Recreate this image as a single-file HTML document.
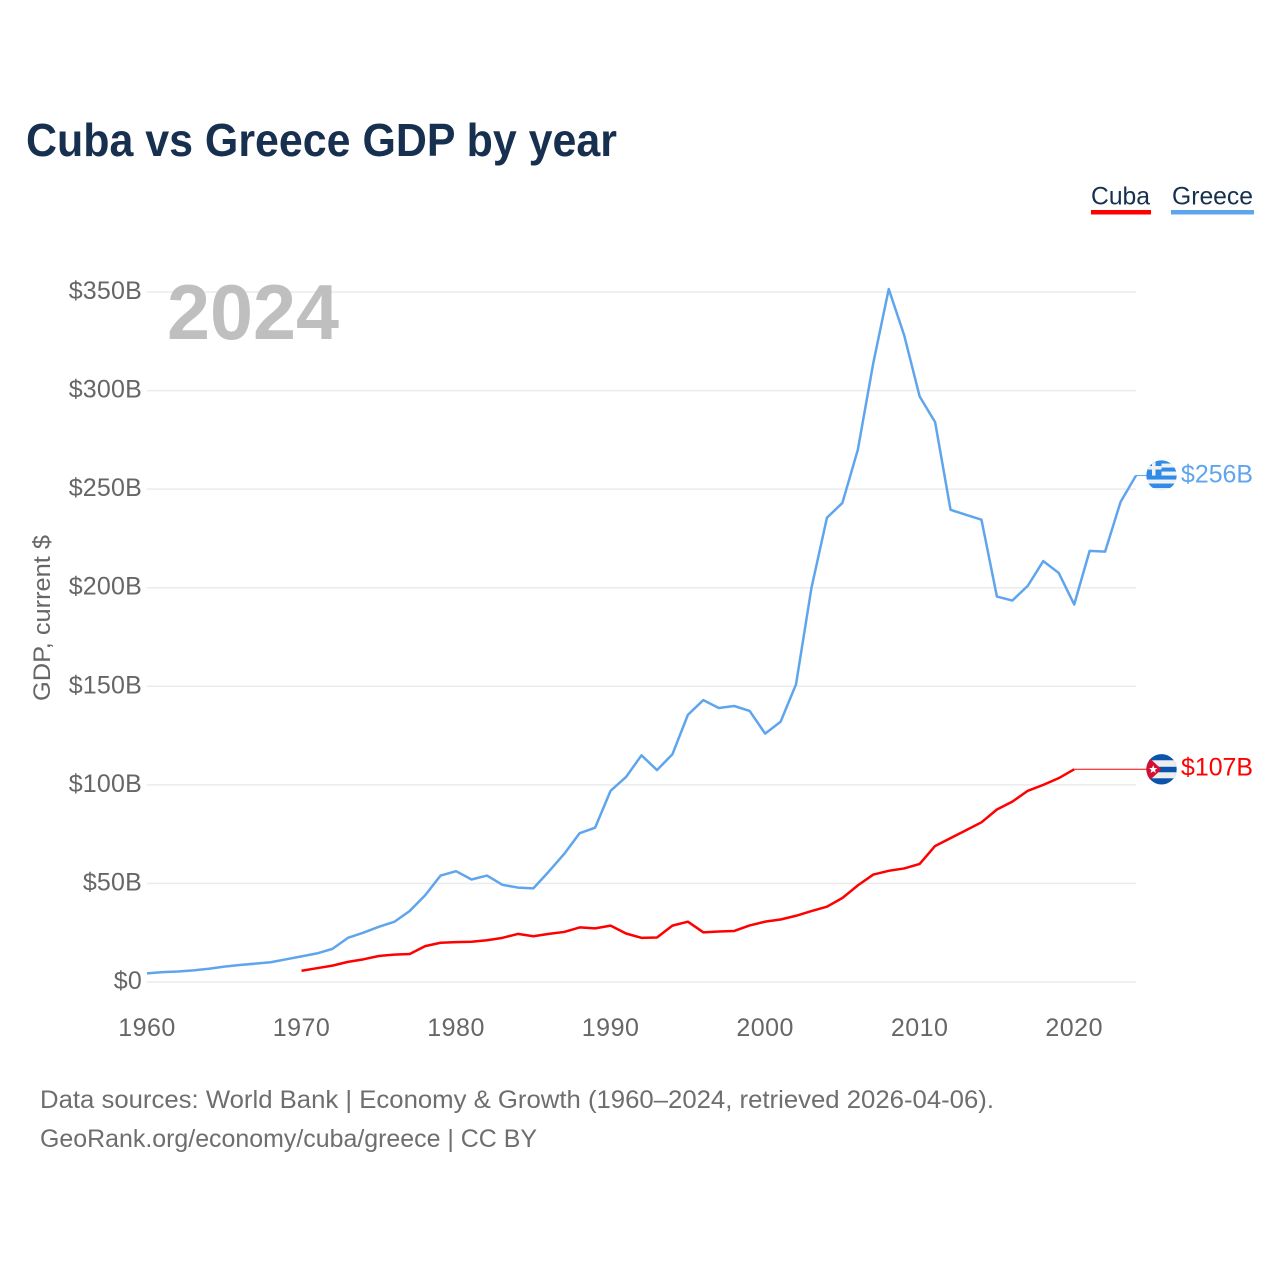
<!DOCTYPE html>
<html lang="en">
<head>
<meta charset="utf-8">
<title>Cuba vs Greece GDP by year</title>
<style>
html,body{margin:0;padding:0;background:#fff;width:1280px;height:1280px;overflow:hidden}
svg{display:block}
text{font-family:"Liberation Sans",sans-serif}
</style>
</head>
<body>
<svg id="chart" xmlns="http://www.w3.org/2000/svg" width="1280" height="1280" viewBox="0 0 1280 1280">
  <defs>
    <clipPath id="flag-clip"><circle cx="0" cy="0" r="15.2"></circle></clipPath>
  </defs>
  <text x="26" y="156" font-size="46" font-weight="700" fill="#17304f" textLength="591" lengthAdjust="spacingAndGlyphs">Cuba vs Greece GDP by year</text>
  <g id="grid"></g>
  <g id="ylabels"></g>
  <g id="xlabels"></g>
  <text x="167" y="339" font-size="78" font-weight="700" fill="#bfbfbf" textLength="172" lengthAdjust="spacingAndGlyphs">2024</text>
  <text transform="translate(50,618) rotate(-90)" text-anchor="middle" font-size="24" fill="#666" textLength="166" lengthAdjust="spacingAndGlyphs">GDP, current $</text>
  <g id="series"></g>

  <g id="flag-greece">
    <g clip-path="url(#flag-clip)">
      <rect x="-16" y="-16" width="32" height="32" fill="#f2f2f2"></rect>
      <rect x="-16" y="-16" width="32" height="4" fill="#2f8ae8"></rect>
      <rect x="-16" y="-8" width="32" height="4" fill="#2f8ae8"></rect>
      <rect x="-16" y="0" width="32" height="4" fill="#2f8ae8"></rect>
      <rect x="-16" y="8" width="32" height="4.5" fill="#2f8ae8"></rect>
      <rect x="-16" y="-16" width="16" height="16" fill="#2f8ae8"></rect>
      <rect x="-16" y="-9.5" width="16" height="3.5" fill="#f2f2f2"></rect>
      <rect x="-9.5" y="-16" width="3.5" height="16" fill="#f2f2f2"></rect>
    </g>
  </g>
  <g id="flag-cuba">
    <g clip-path="url(#flag-clip)">
      <rect x="-16" y="-16" width="32" height="32" fill="#0a55ab"></rect>
      <rect x="-16" y="-9" width="32" height="6.5" fill="#eee"></rect>
      <rect x="-16" y="3" width="32" height="6" fill="#eee"></rect>
      <polygon points="-16,-15 0,0 -16,15" fill="#d21034"></polygon>
      <polygon points="-8.3,-4.2 -7.2,-1.3 -4.2,-1.3 -6.5,0.7 -5.7,3.7 -8.3,2 -10.9,3.7 -10.1,0.7 -12.4,-1.3 -9.4,-1.3" fill="#fff"></polygon>
    </g>
  </g>
  <text id="value-greece" x="1181" font-size="25" fill="#5fa5ed" textLength="72" lengthAdjust="spacingAndGlyphs"></text>
  <text id="value-cuba" x="1181" font-size="25" fill="#ff0000" textLength="72" lengthAdjust="spacingAndGlyphs"></text>

  <text x="1091" y="204.5" font-size="25" fill="#17304f" textLength="59" lengthAdjust="spacingAndGlyphs">Cuba</text>
  <rect x="1091" y="210" width="60" height="4.5" fill="#ff0000"></rect>
  <text x="1172" y="204.5" font-size="25" fill="#17304f" textLength="81" lengthAdjust="spacingAndGlyphs">Greece</text>
  <rect x="1171" y="210" width="83" height="4.5" fill="#5fa5ed"></rect>

  <text x="40" y="1108" font-size="25" fill="#6e6e6e" textLength="954" lengthAdjust="spacingAndGlyphs">Data sources: World Bank | Economy &amp; Growth (1960–2024, retrieved 2026-04-06).</text>
  <text x="40" y="1147" font-size="25" fill="#6e6e6e" textLength="497" lengthAdjust="spacingAndGlyphs">GeoRank.org/economy/cuba/greece | CC BY</text>
</svg>
<script>
const greeceStartYear = 1960;
const greeceValues = [4.4,5.0,5.3,5.9,6.7,7.8,8.6,9.3,10.0,11.5,13.0,14.5,16.8,22.4,25.0,28.0,30.5,36.0,44.0,54.0,56.2,52.0,54.0,49.3,47.9,47.5,56.0,65.0,75.5,78.3,97.0,104.0,115.0,107.5,115.5,135.5,143.0,139.0,140.0,137.5,126.0,132.0,151.0,200.0,235.5,243.0,270.0,314.0,351.5,328.0,297.0,284.0,239.5,237.0,234.5,195.5,193.5,201.0,213.5,207.5,191.5,218.7,218.3,243.5,256.9];
const cubaStartYear = 1970;
const cubaValues = [5.7,7.0,8.3,10.2,11.5,13.2,13.9,14.2,18.2,19.9,20.2,20.4,21.2,22.4,24.4,23.2,24.4,25.4,27.7,27.2,28.6,24.6,22.4,22.6,28.6,30.6,25.2,25.6,25.9,28.7,30.6,31.7,33.6,36.0,38.2,42.6,49.0,54.5,56.4,57.6,59.9,69.0,73.0,77.0,81.0,87.5,91.5,97.0,100.0,103.4,107.9];
const yTicks = [0,50,100,150,200,250,300,350];
const xTicks = [1960,1970,1980,1990,2000,2010,2020];

const NS = 'http://www.w3.org/2000/svg';
const xScale = year => 147 + (year - 1960) * (1136 - 147) / 64;
const yScale = value => 982 - value * (982 - 292) / 350;
const make = (tag, parent) => {
  const node = document.createElementNS(NS, tag);
  document.getElementById(parent).appendChild(node);
  return node;
};
const pathFor = (values, start) => values.map((v, i) => (i ? 'L' : 'M') + xScale(start + i).toFixed(2) + ' ' + yScale(v).toFixed(2)).join(' ');
const formatValue = v => '$' + Math.floor(v) + 'B';

yTicks.forEach(tick => {
  const line = make('line', 'grid');
  
  
  line.setAttribute('x1', 147);
  line.setAttribute('x2', 1136);
  line.setAttribute('y1', yScale(tick));
  line.setAttribute('y2', yScale(tick));
  line.setAttribute('stroke', '#ebebeb');
  line.setAttribute('stroke-width', '1.5');

  const label = make('text', 'ylabels');
  
  
  label.setAttribute('x', 142);
  label.setAttribute('y', yScale(tick) + 7);
  label.setAttribute('text-anchor', 'end');
  label.setAttribute('font-size', '25');
  label.setAttribute('letter-spacing', '0.2');
  label.setAttribute('fill', '#666');
  label.textContent = tick === 0 ? '$0' : '$' + tick + 'B';
});

xTicks.forEach(tick => {
  const label = make('text', 'xlabels');
  
  
  label.setAttribute('x', xScale(tick));
  label.setAttribute('y', 1036);
  label.setAttribute('text-anchor', 'middle');
  label.setAttribute('font-size', '25');
  label.setAttribute('letter-spacing', '0.5');
  label.setAttribute('fill', '#666');
  label.textContent = tick;
});

const greeceLine = make('path', 'series');


greeceLine.setAttribute('d', pathFor(greeceValues, greeceStartYear));
greeceLine.setAttribute('fill', 'none');
greeceLine.setAttribute('stroke', '#5fa5ed');
greeceLine.setAttribute('stroke-width', '2.5');
greeceLine.setAttribute('stroke-linejoin', 'round');

const cubaLine = make('path', 'series');


cubaLine.setAttribute('d', pathFor(cubaValues, cubaStartYear));
cubaLine.setAttribute('fill', 'none');
cubaLine.setAttribute('stroke', '#ff0000');
cubaLine.setAttribute('stroke-width', '2.5');
cubaLine.setAttribute('stroke-linejoin', 'round');

const greeceLast = greeceValues[greeceValues.length - 1];
const cubaLast = cubaValues[cubaValues.length - 1];
const cubaLastYear = cubaStartYear + cubaValues.length - 1;
const greeceLastYear = greeceStartYear + greeceValues.length - 1;

const greeceLeader = make('line', 'series');


greeceLeader.setAttribute('x1', xScale(greeceLastYear));
greeceLeader.setAttribute('x2', 1147);
greeceLeader.setAttribute('y1', yScale(greeceLast));
greeceLeader.setAttribute('y2', yScale(greeceLast));
greeceLeader.setAttribute('stroke', '#5fa5ed');
greeceLeader.setAttribute('stroke-width', '1');

const cubaLeader = make('line', 'series');


cubaLeader.setAttribute('x1', xScale(cubaLastYear));
cubaLeader.setAttribute('x2', 1147);
cubaLeader.setAttribute('y1', yScale(cubaLast));
cubaLeader.setAttribute('y2', yScale(cubaLast));
cubaLeader.setAttribute('stroke', '#ff0000');
cubaLeader.setAttribute('stroke-width', '1');

document.getElementById('flag-greece').setAttribute('transform', 'translate(1161.5,' + yScale(greeceLast) + ')');
document.getElementById('flag-cuba').setAttribute('transform', 'translate(1161.5,' + yScale(cubaLast) + ')');
const greeceValueLabel = document.getElementById('value-greece');
greeceValueLabel.setAttribute('y', yScale(greeceLast) + 7);
greeceValueLabel.textContent = formatValue(greeceLast);
const cubaValueLabel = document.getElementById('value-cuba');
cubaValueLabel.setAttribute('y', yScale(cubaLast) + 6);
cubaValueLabel.textContent = formatValue(cubaLast);
</script>
</body>
</html>
